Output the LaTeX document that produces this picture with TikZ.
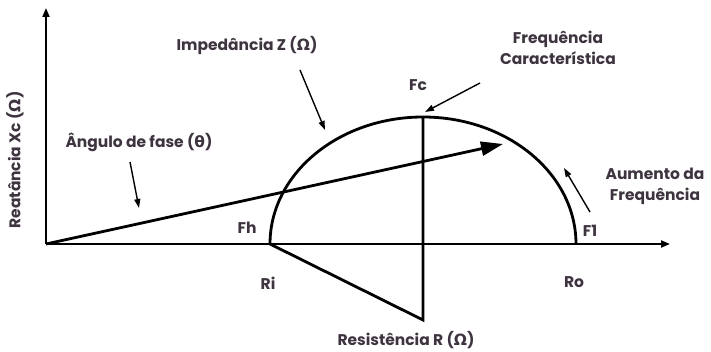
\documentclass[tikz,border=0pt]{standalone}
\usepackage{fontspec}
\setmainfont{Poppins}
\newfontfamily\grk{DejaVu Sans}
\usetikzlibrary{arrows.meta}
\definecolor{textc}{RGB}{62,52,64}
\begin{document}
\begin{tikzpicture}[x=1pt,y=1pt,
  lbl/.style={text=textc,font=\fontsize{15.5}{21}\selectfont\bfseries,inner sep=0pt,align=center},
  axis/.style={line width=2pt,-{Triangle[length=9pt,width=7pt]}},
  heavy/.style={line width=2.8pt},
  pointer/.style={line width=1.4pt,-{Triangle[length=9pt,width=6pt]}}]
\useasboundingbox (0,0) rectangle (711,352);
% key points
\coordinate (O) at (46,108);
\coordinate (Ytop) at (46,344);
\coordinate (Xend) at (670,108);
\coordinate (Fh) at (270,108);
\coordinate (F1) at (576,108);
\coordinate (Fc) at (423,235);
\coordinate (B) at (423,32);
\coordinate (P) at (503,208);
% axes
\draw[axis] (O) -- (Ytop);
\draw[axis] (O) -- (Xend);
% arc
\draw[heavy] (Fh) arc[start angle=180,end angle=0,x radius=153pt,y radius=127pt];
% triangle lines
\draw[heavy] (Fc) -- (B) -- (Fh);
% phase vector
\draw[heavy,-{Triangle[length=22pt,width=14pt]}] (O) -- (P);
% labels
\node[lbl] (imp) at (247,307) {Impedância Z ({\grk Ω})};
\node[lbl] (ang) at (139,210) {Ângulo de fase ({\grk θ})};
\node[lbl,rotate=90] (reat) at (15,192) {Reatância Xc ({\grk Ω})};
\node[lbl] (freq) at (558,304.5) {Frequência\\Característica};
\node[lbl] (fc) at (418,267) {Fc};
\node[lbl] (aum) at (655,165.5) {Aumento da\\Frequência};
\node[lbl] (f1) at (590,121) {F1};
\node[lbl] (fh) at (247,124) {Fh};
\node[lbl] (ri) at (268,69) {Ri};
\node[lbl] (ro) at (574,70) {Ro};
\node[lbl] (res) at (406,12) {Resistência R ({\grk Ω})};
% pointer arrows
\coordinate (a1s) at (300,282); \coordinate (a1e) at (325,222);
\coordinate (a2s) at (130,190); \coordinate (a2e) at (139,144);
\coordinate (a3s) at (480,269); \coordinate (a3e) at (425,240);
\coordinate (a4s) at (590,140); \coordinate (a4e) at (564,184);
\draw[pointer] (a1s) -- (a1e);
\draw[pointer] (a2s) -- (a2e);
\draw[pointer] (a3s) -- (a3e);
\draw[pointer] (a4s) -- (a4e);
\end{tikzpicture}
\end{document}
